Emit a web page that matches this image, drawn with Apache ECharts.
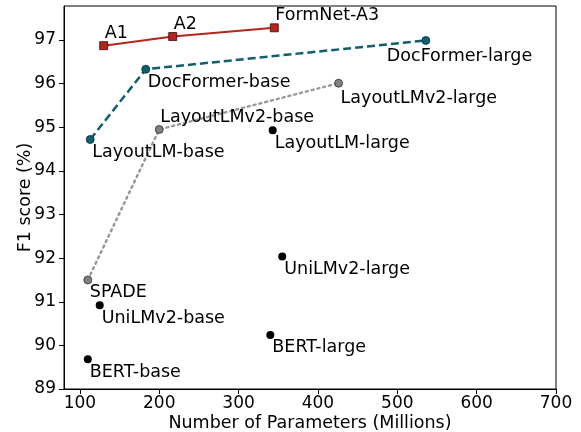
<!DOCTYPE html>
<html>
<head>
<meta charset="utf-8">
<script src="https://cdn.jsdelivr.net/npm/echarts@6/dist/echarts.min.js"></script>
<style>html,body{margin:0;padding:0;background:#fff}#c{width:581px;height:432px}</style>
</head>
<body>
<div id="c"></div>
<script>
// FormNet (red squares, solid line)
const formnetNames = ['A1', 'A2', 'FormNet-A3'];
const formnetX = [130, 217, 345];
const formnetY = [96.87, 97.08, 97.28];

// DocFormer / LayoutLM (teal, dashed line)
const docNames = ['LayoutLM-base', 'DocFormer-base', 'DocFormer-large'];
const docX = [113, 183, 536];
const docY = [94.72, 96.33, 96.99];

// SPADE / LayoutLMv2 (gray, dotted line)
const lmv2Names = ['SPADE', 'LayoutLMv2-base', 'LayoutLMv2-large'];
const lmv2X = [110, 200, 426];
const lmv2Y = [91.5, 94.95, 96.01];

// Other models (black points)
const otherNames = ['LayoutLM-large', 'UniLMv2-base', 'BERT-base', 'UniLMv2-large', 'BERT-large'];
const otherX = [343, 125, 110, 355, 340];
const otherY = [94.93, 90.92, 89.68, 92.04, 90.24];

const xTicks = [100, 200, 300, 400, 500, 600, 700];
const yTicks = [89, 90, 91, 92, 93, 94, 95, 96, 97];

const FONT = 'DejaVu Sans';
const baseLabel = {show: true, position: 'inside', align: 'left', verticalAlign: 'top', offset: [2, 4], color: '#000', fontSize: 17.5, fontFamily: FONT, formatter: '{b}'};
const aboveSet = new Set(['A1', 'A2', 'FormNet-A3', 'LayoutLMv2-base']);
const offsetOverride = {'DocFormer-large': [-39, 7], 'LayoutLMv2-large': [2, 6]};

function labelFor(n) {
  const l = Object.assign({}, baseLabel);
  if (aboveSet.has(n)) { l.verticalAlign = 'bottom'; l.offset = [1, -3]; }
  if (offsetOverride[n]) l.offset = offsetOverride[n];
  return l;
}
function build(names, xs, ys) {
  return names.map((n, i) => ({name: n, value: [xs[i], ys[i]], label: labelFor(n)}));
}

const chart = echarts.init(document.getElementById('c'));
chart.setOption({
  animation: false,
  grid: {left: 64, right: 25, top: 6, bottom: 43, show: true, borderColor: '#000', borderWidth: 1, outerBoundsMode: 'none', containLabel: false},
  xAxis: {
    type: 'value', min: 80, max: 700,
    name: 'Number of Parameters (Millions)', nameLocation: 'middle', nameGap: 25, nameMoveOverlap: false,
    nameTextStyle: {fontSize: 17.5, fontFamily: FONT, color: '#000'},
    axisLine: {show: true, onZero: false, lineStyle: {color: '#000', width: 1}},
    axisTick: {show: true, length: 5, lineStyle: {color: '#000'}, customValues: xTicks},
    axisLabel: {fontSize: 17, fontFamily: FONT, color: '#000', margin: 6, customValues: xTicks},
    splitLine: {show: false}
  },
  yAxis: {
    type: 'value', min: 89, max: 97.78,
    name: 'F1 score (%)', nameLocation: 'middle', nameGap: 30, nameMoveOverlap: false,
    nameTextStyle: {fontSize: 17.5, fontFamily: FONT, color: '#000'},
    axisLine: {show: true, onZero: false, lineStyle: {color: '#000', width: 1}},
    axisTick: {show: true, length: 5, lineStyle: {color: '#000'}, customValues: yTicks},
    axisLabel: {fontSize: 17, fontFamily: FONT, color: '#000', margin: 8, customValues: yTicks},
    splitLine: {show: false}
  },
  series: [
    {
      type: 'line', data: build(lmv2Names, lmv2X, lmv2Y),
      symbol: 'circle', symbolSize: 8,
      lineStyle: {color: '#999', width: 2.5, type: [2, 4], cap: 'round'},
      itemStyle: {color: '#808080', borderColor: '#333', borderWidth: 0.8, opacity: 1}
    },
    {
      type: 'line', data: build(docNames, docX, docY),
      symbol: 'circle', symbolSize: 8,
      lineStyle: {color: '#0f5f6e', width: 2.5, type: [8, 4]},
      itemStyle: {color: '#0f5f6e', borderColor: '#0a2f36', borderWidth: 0.8, opacity: 1}
    },
    {
      type: 'line', data: build(formnetNames, formnetX, formnetY),
      symbol: 'rect', symbolSize: 8,
      lineStyle: {color: '#b3261e', width: 2},
      itemStyle: {color: '#b3261e', borderColor: '#3a0a06', borderWidth: 0.8, opacity: 1}
    },
    {
      type: 'scatter', data: build(otherNames, otherX, otherY),
      symbol: 'circle', symbolSize: 8,
      itemStyle: {color: '#000', opacity: 1}
    }
  ]
});
</script>
</body>
</html>
